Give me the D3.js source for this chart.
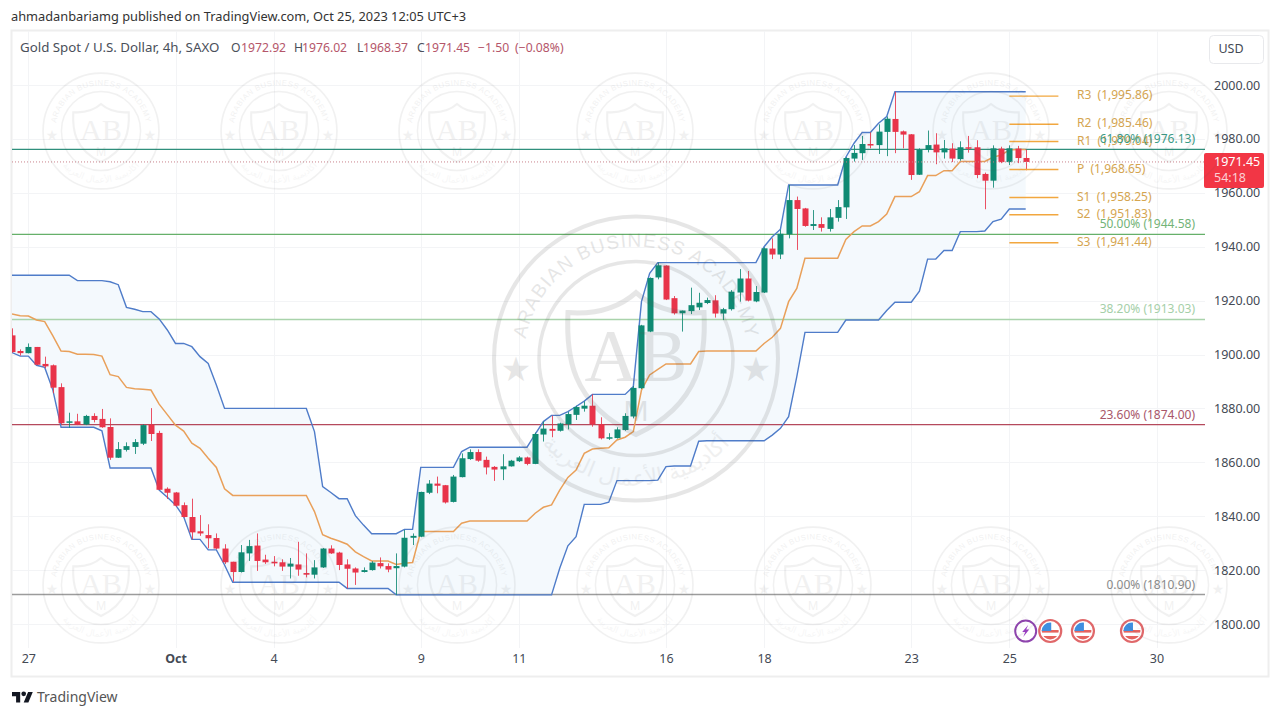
<!DOCTYPE html>
<html><head><meta charset="utf-8">
<script src="https://cdn.jsdelivr.net/npm/d3@7"></script>
<style>
html,body{margin:0;padding:0;background:#fff}
svg{display:block}
text{font-family:"Noto Sans","Open Sans",sans-serif}
</style></head><body>
<svg id="c" width="1280" height="716"></svg>
<script>
const headerText = "ahmadanbariamg published on TradingView.com, Oct 25, 2023 12:05 UTC+3";
const symbolText = "Gold Spot / U.S. Dollar, 4h, SAXO";
const ohlcLabels = ["O","H","L","C"];
const ohlcValues = ["1972.92","1976.02","1968.37","1971.45"];
const changeText = ["−1.50","(−0.08%)"];
const openP = [1907.1,1901.3,1900.5,1902.8,1896.5,1896.0,1887.9,1874.7,1875.2,1874.0,1877.2,1876.1,1873.1,1861.7,1864.6,1865.7,1866.9,1874.0,1870.9,1850.2,1848.8,1844.1,1839.7,1834.4,1833.0,1831.9,1828.0,1823.1,1819.3,1826.2,1829.1,1823.9,1823.1,1822.9,1821.3,1822.1,1818.9,1818.3,1821.0,1828.0,1826.5,1822.1,1820.6,1819.3,1820.0,1822.6,1821.5,1820.7,1821.3,1832.0,1832.4,1848.7,1852.1,1851.5,1845.3,1854.5,1861.2,1863.8,1860.9,1858.3,1857.4,1858.5,1860.4,1861.8,1859.4,1870.3,1872.4,1871.7,1874.1,1877.6,1879.9,1881.0,1874.1,1868.9,1869.0,1872.0,1877.0,1887.5,1908.5,1928.6,1933.0,1920.9,1915.3,1916.1,1917.5,1919.1,1920.1,1915.2,1916.8,1923.0,1928.2,1919.7,1923.0,1939.3,1937.1,1944.6,1957.3,1954.2,1947.7,1948.4,1946.6,1950.7,1954.6,1972.7,1974.7,1978.1,1977.7,1982.6,1987.4,1982.8,1981.7,1966.7,1975.9,1977.9,1975.0,1976.4,1972.5,1976.9,1976.9,1967.0,1964.5,1976.4,1971.4,1976.4,1972.92];
const highP = [1909.7,1901.9,1904.1,1902.8,1899.2,1896.3,1889.3,1878.4,1878.0,1877.6,1878.2,1879.8,1876.3,1867.5,1867.4,1868.6,1874.1,1880.1,1871.7,1850.7,1849.0,1845.1,1846.5,1840.4,1837.0,1833.6,1829.6,1823.1,1829.3,1831.2,1833.6,1825.7,1825.2,1824.0,1824.5,1830.5,1826.2,1823.7,1828.2,1829.2,1826.8,1824.0,1821.0,1821.0,1823.3,1824.7,1822.5,1826.2,1834.9,1833.6,1849.1,1853.4,1854.7,1851.6,1855.3,1863.3,1864.8,1864.8,1862.1,1858.6,1863.0,1860.9,1862.3,1862.1,1871.0,1875.1,1877.3,1874.7,1878.7,1881.0,1882.6,1885.2,1876.7,1870.8,1873.0,1878.2,1888.3,1911.0,1928.6,1934.1,1933.1,1921.7,1916.3,1924.8,1922.9,1921.1,1922.0,1917.3,1923.9,1931.7,1931.0,1925.4,1939.8,1943.1,1946.3,1962.9,1958.6,1954.4,1953.6,1950.9,1954.0,1957.3,1973.2,1977.7,1981.1,1982.4,1985.4,1988.3,1997.5,1983.1,1981.8,1976.5,1983.1,1982.1,1979.6,1978.4,1979.1,1981.1,1979.5,1967.5,1977.6,1977.1,1977.6,1977.4,1976.02];
const lowP = [1900.7,1899.6,1900.4,1896.0,1894.9,1885.6,1874.2,1872.8,1873.8,1873.8,1874.8,1872.8,1860.9,1861.6,1864.0,1863.1,1866.4,1867.9,1849.7,1846.4,1843.5,1839.5,1831.4,1832.7,1828.1,1827.7,1822.3,1815.7,1819.1,1823.4,1819.7,1822.3,1821.4,1819.7,1816.9,1817.9,1817.3,1816.9,1820.8,1826.0,1820.0,1813.2,1814.5,1819.1,1819.8,1820.6,1819.2,1810.8,1821.0,1829.3,1832.2,1848.2,1848.5,1844.7,1845.1,1854.4,1860.9,1860.2,1855.5,1853.1,1853.4,1858.4,1860.1,1858.9,1859.3,1867.7,1869.3,1871.4,1872.2,1875.7,1878.8,1873.2,1868.5,1868.3,1868.8,1871.7,1876.3,1887.2,1908.3,1927.9,1920.2,1914.8,1908.5,1915.0,1916.5,1918.7,1913.7,1912.8,1916.3,1919.6,1919.7,1919.4,1922.8,1935.4,1935.4,1943.1,1938.8,1947.4,1946.2,1945.6,1945.6,1949.3,1950.3,1971.6,1972.2,1976.5,1974.4,1973.6,1974.7,1976.5,1964.8,1966.6,1975.0,1970.6,1972.7,1971.4,1971.9,1974.9,1965.4,1953.9,1961.9,1971.0,1970.3,1971.0,1968.37];
const closeP = [1900.9,1900.5,1902.8,1896.2,1895.6,1887.7,1874.5,1875.2,1874.0,1877.2,1875.7,1873.0,1861.7,1864.9,1866.0,1867.5,1873.8,1870.5,1849.8,1848.7,1843.9,1839.7,1834.0,1833.6,1831.8,1828.0,1822.9,1819.3,1826.6,1828.9,1823.4,1822.9,1822.5,1821.3,1822.4,1820.2,1818.3,1821.0,1828.0,1826.2,1821.9,1820.5,1819.1,1820.0,1822.8,1821.4,1820.2,1821.5,1832.0,1832.7,1849.0,1852.1,1851.3,1845.1,1854.7,1861.5,1863.8,1860.6,1858.1,1857.3,1858.5,1860.6,1861.8,1859.4,1870.5,1872.5,1871.7,1874.4,1877.9,1880.5,1881.0,1874.1,1868.9,1869.3,1872.2,1877.2,1887.6,1910.8,1928.4,1933.1,1920.4,1915.3,1916.3,1918.3,1919.2,1920.2,1915.2,1916.8,1923.3,1928.2,1920.0,1923.2,1939.4,1937.1,1944.8,1957.3,1954.0,1947.7,1948.4,1947.0,1950.9,1954.7,1972.9,1974.8,1978.1,1977.6,1982.7,1987.5,1982.6,1981.6,1966.6,1975.9,1977.7,1975.0,1976.5,1972.7,1976.9,1976.4,1966.6,1964.5,1976.5,1971.4,1976.5,1972.9,1971.45];
const upperBand = [1929.4,1929.4,1929.4,1929.4,1929.4,1929.4,1929.4,1929.4,1927.4,1927.4,1927.4,1927.4,1927.0,1925.9,1917.5,1916.8,1915.9,1915.9,1913.2,1909.1,1904.1,1904.1,1902.9,1899.2,1896.7,1888.7,1880.0,1880.0,1880.0,1880.0,1880.0,1880.0,1880.0,1880.0,1880.0,1880.0,1880.0,1871.4,1851.0,1848.8,1846.5,1846.5,1840.2,1836.7,1833.5,1833.5,1833.5,1833.5,1835.1,1835.1,1858.1,1858.1,1858.1,1858.1,1858.1,1864.0,1865.6,1865.6,1865.6,1865.6,1865.6,1865.6,1865.6,1865.6,1870.5,1875.1,1877.4,1877.4,1878.8,1880.7,1882.7,1885.2,1885.2,1885.2,1885.2,1885.2,1888.1,1919.6,1930.1,1934.1,1934.1,1934.1,1934.1,1934.1,1934.1,1934.1,1934.1,1934.1,1934.1,1934.1,1934.1,1934.1,1940.0,1943.7,1946.5,1962.9,1962.9,1962.9,1962.9,1962.9,1962.9,1962.9,1973.2,1978.4,1982.4,1982.4,1985.8,1988.3,1997.5,1997.5,1997.5,1997.5,1997.5,1997.5,1997.5,1997.5,1997.5,1997.5,1997.5,1997.5,1997.5,1997.5,1997.5,1997.5,1997.5];
const basisBand = [1915.0,1914.4,1914.3,1912.8,1912.2,1906.9,1901.3,1901.1,1900.1,1900.1,1900.0,1899.4,1892.5,1891.8,1887.8,1887.3,1887.1,1886.8,1881.6,1877.7,1873.8,1871.6,1867.1,1865.2,1861.5,1858.1,1850.2,1847.7,1847.7,1847.7,1847.7,1847.7,1847.7,1847.7,1847.7,1847.7,1847.7,1841.7,1833.1,1831.8,1830.8,1829.6,1826.8,1825.0,1823.4,1823.4,1823.4,1822.1,1822.5,1822.8,1834.3,1834.3,1834.3,1834.3,1834.3,1837.4,1838.2,1838.2,1838.2,1838.2,1838.2,1838.2,1838.2,1838.2,1841.1,1843.3,1844.2,1849.7,1854.4,1857.1,1863.3,1864.9,1865.2,1865.4,1868.3,1869.3,1871.4,1886.8,1892.4,1894.5,1896.5,1896.5,1896.5,1896.5,1901.1,1901.3,1901.3,1901.3,1901.3,1901.3,1901.3,1901.3,1904.1,1906.4,1909.7,1919.6,1924.5,1935.7,1935.7,1935.7,1935.7,1935.7,1942.7,1945.6,1947.7,1947.7,1949.3,1952.1,1958.6,1958.6,1958.6,1960.4,1966.4,1966.4,1968.2,1968.2,1971.6,1971.6,1971.6,1971.6,1973.2,1974.0,1975.9,1976.1,1976.1];
const lowerBand = [1900.7,1899.4,1899.4,1896.0,1895.2,1886.8,1873.0,1873.0,1873.0,1873.0,1873.0,1871.7,1857.9,1857.9,1857.9,1857.9,1857.9,1857.9,1849.7,1847.0,1844.2,1839.8,1831.4,1831.4,1827.5,1827.5,1821.9,1815.5,1815.5,1815.5,1815.5,1815.5,1815.5,1815.5,1815.5,1815.5,1815.5,1815.5,1815.5,1815.5,1815.5,1813.2,1813.2,1813.2,1813.2,1813.2,1813.2,1810.8,1810.8,1810.8,1810.8,1810.8,1810.8,1810.8,1810.8,1810.8,1810.8,1810.8,1810.8,1810.8,1810.8,1810.8,1810.8,1810.8,1810.8,1810.8,1810.8,1820.7,1829.0,1832.4,1844.4,1844.4,1844.4,1845.2,1853.2,1853.2,1853.2,1853.2,1853.2,1853.4,1858.4,1858.6,1858.6,1858.6,1867.8,1868.0,1868.0,1868.0,1868.0,1868.0,1868.0,1868.0,1868.0,1870.1,1872.6,1876.9,1891.8,1908.2,1908.2,1908.2,1908.2,1908.2,1912.8,1912.8,1912.8,1912.8,1912.8,1916.3,1919.4,1919.4,1919.4,1923.5,1935.4,1935.4,1938.6,1938.6,1945.6,1945.6,1945.6,1945.8,1949.3,1950.2,1954.0,1954.0,1954.0];
const fibValues = [1976.13,1944.58,1913.03,1874.00,1810.90];
const fibNames = ["61.80%","50.00%","38.20%","23.60%","0.00%"];
const fibColors = ["#2f8f7c","#66b06a","#a9d3ab","#b5495c","#9c9c9c"];
const fibTextColors = ["#3a9a86","#73b377","#a5cfa8","#a8566a","#8a8a8a"];
const pivotNames = ["R3","R2","R1","P","S1","S2","S3"];
const pivotValues = [1995.86,1985.46,1979.04,1968.65,1958.25,1951.83,1941.44];
const priceTicks = [1800,1820,1840,1860,1880,1900,1920,1940,1960,1980,2000];
const timeTickIdx = [2,20,32,50,62,80,92,110,122,140];
const timeTickLabels = ["27","Oct","4","9","11","16","18","23","25","30"];
const lastPrice = 1971.45;
const countdown = "54:18";
const lightningIdx = [124];
const flagIdx = [127,131,137];

const svg = d3.select("#c");
const L=12,R=1205,T=31,B=648;
const x = d3.scaleLinear().domain([0,124]).range([12,12+124*8.175]);
const y = d3.scaleLinear().domain([1800,2000]).range([624,85]);
const defs = svg.append("defs");
defs.append("clipPath").attr("id","plot").append("rect").attr("x",L).attr("y",T).attr("width",R-L).attr("height",B-T);

// frame
svg.append("rect").attr("x",11.5).attr("y",30.5).attr("width",1257).attr("height",646).attr("fill","#fff").attr("stroke","#eeeeee").attr("stroke-width",2);

// grid
const gridG = svg.append("g").attr("stroke","#f3f4f6").attr("stroke-width",1);
gridG.selectAll(".h").data(priceTicks).join("line").attr("x1",L).attr("x2",R).attr("y1",d=>Math.round(y(d))+.5).attr("y2",d=>Math.round(y(d))+.5);
gridG.selectAll(".v").data(timeTickIdx).join("line").attr("y1",T).attr("y2",B).attr("x1",d=>Math.round(x(d))+.5).attr("x2",d=>Math.round(x(d))+.5);

const plot = svg.append("g").attr("clip-path","url(#plot)");
const idx = d3.range(upperBand.length);

// band
plot.append("path").attr("fill","#f4f9fd").attr("d",d3.area().x(i=>x(i)).y0(i=>y(lowerBand[i])).y1(i=>y(upperBand[i]))(idx));

// fib lines
fibValues.forEach((v,i)=>{
  plot.append("line").attr("x1",L).attr("x2",R).attr("y1",y(v)).attr("y2",y(v)).attr("stroke",fibColors[i]).attr("stroke-width",i==2||i==4?1.5:1.2);
});
// band lines
const ln = a=>d3.line().x(i=>x(i)).y(i=>y(a[i]))(idx);
plot.append("path").attr("d",ln(upperBand)).attr("fill","none").attr("stroke","#4f7cc9").attr("stroke-width",1.4);
plot.append("path").attr("d",ln(lowerBand)).attr("fill","none").attr("stroke","#4f7cc9").attr("stroke-width",1.4);
plot.append("path").attr("d",ln(basisBand)).attr("fill","none").attr("stroke","#e9a05a").attr("stroke-width",1.5);

// candles
const up="#0f8a73", dn="#e8344a";
const col=i=>closeP[i]>=openP[i]?up:dn;
plot.selectAll(".w").data(idx).join("line").attr("x1",i=>Math.round(x(i))+.5).attr("x2",i=>Math.round(x(i))+.5)
  .attr("y1",i=>y(highP[i])).attr("y2",i=>y(lowP[i])).attr("stroke",col).attr("stroke-width",1).attr("stroke-opacity",.85);
plot.selectAll(".b").data(idx).join("rect").attr("x",i=>Math.round(x(i))-2.5).attr("width",6)
  .attr("y",i=>y(Math.max(openP[i],closeP[i]))).attr("height",i=>Math.max(1.5,Math.abs(y(openP[i])-y(closeP[i])))).attr("fill",col);

// last price dotted line
plot.append("line").attr("x1",L).attr("x2",R).attr("y1",y(lastPrice)).attr("y2",y(lastPrice)).attr("stroke","#c9828c").attr("stroke-width",1).attr("stroke-dasharray","1 2");

// pivots
const pivG = svg.append("g");
pivotValues.forEach((v,i)=>{
  pivG.append("line").attr("x1",x(122)).attr("x2",x(128)).attr("y1",y(v)).attr("y2",y(v)).attr("stroke","#f2a73f").attr("stroke-width",1.4);
  pivG.append("text").attr("x",1077).attr("y",y(v)-1).attr("dy","0.35em").attr("font-size",12).attr("fill","#d5a550").attr("xml:space","preserve")
    .text(pivotNames[i]+"  ("+d3.format(",.2f")(v)+")");
});
// fib labels
fibValues.forEach((v,i)=>{
  svg.append("text").attr("x",1195).attr("y",y(v)-6).attr("text-anchor","end").attr("font-size",12).attr("fill",fibTextColors[i])
    .text(fibNames[i]+" ("+v.toFixed(2)+")");
});

// axes
const ya = svg.append("g").attr("transform","translate(1214,0)").call(d3.axisRight(y).tickValues(priceTicks).tickSize(0).tickPadding(0).tickFormat(d=>d.toFixed(2)));
ya.select(".domain").remove();
ya.selectAll("text").attr("font-size",12.5).attr("fill","#444a55");
const xa = svg.append("g").attr("transform","translate(0,654)").call(d3.axisBottom(x).tickValues(timeTickIdx).tickSize(0).tickPadding(0).tickFormat((d,i)=>timeTickLabels[i]));
xa.select(".domain").remove();
xa.selectAll("text").attr("font-size",12.5).attr("fill","#444a55").style("font-weight",(d,i)=>timeTickLabels[i]=="Oct"?700:400);

// price tag
svg.append("rect").attr("x",1204).attr("y",153).attr("width",60).attr("height",35).attr("rx",2).attr("fill","#f23645");
svg.append("text").attr("x",1214).attr("y",166).attr("font-size",12.5).attr("fill","#fff").text(lastPrice.toFixed(2));
svg.append("text").attr("x",1214).attr("y",182).attr("font-size",12.5).attr("fill","#fbd0d5").text(countdown);

// USD
svg.append("rect").attr("x",1209.5).attr("y",35.5).attr("width",54).attr("height",28).attr("rx",4).attr("fill","#fff").attr("stroke","#e8e9ec");
svg.append("text").attr("x",1231).attr("y",53).attr("text-anchor","middle").attr("font-size",12.5).attr("fill","#444a55").text("USD");

// header
svg.append("text").attr("x",11).attr("y",21).attr("font-size",12.8).attr("fill","#333").text(headerText);
svg.append("text").attr("x",20).attr("y",52).attr("font-size",13.3).attr("fill","#4a4f5a").text(symbolText);
const lgX=[231,294,357,417], lgV=[241,302,363,425];
ohlcLabels.forEach((l,i)=>{
  svg.append("text").attr("x",lgX[i]).attr("y",52).attr("font-size",12.2).attr("fill","#4a4f5a").text(l);
  svg.append("text").attr("x",lgV[i]).attr("y",52).attr("font-size",12.2).attr("fill","#b5566a").text(ohlcValues[i]);
});
svg.append("text").attr("x",478).attr("y",52).attr("font-size",12.2).attr("fill","#b5566a").text(changeText[0]);
svg.append("text").attr("x",515).attr("y",52).attr("font-size",12.2).attr("fill","#b5566a").text(changeText[1]);

// event icons
const iconY = y(1797.4);
lightningIdx.forEach(i=>{
  const g=svg.append("g").attr("transform",`translate(${x(i)},${iconY})`);
  g.append("circle").attr("r",10.5).attr("fill","#fff").attr("stroke","#8e44ad").attr("stroke-width",2);
  g.append("path").attr("d","M2.5,-6 L-3.5,1 L-0.5,1 L-2.5,6 L3.5,-1.5 L0.5,-1.5 Z").attr("fill","#9b3fc4");
});
flagIdx.forEach((i,k)=>{
  const g=svg.append("g").attr("transform",`translate(${x(i)},${iconY})`);
  const id="fc"+k;
  g.append("circle").attr("r",11).attr("fill","#fff").attr("stroke","#e0686a").attr("stroke-width",2.2);
  g.append("clipPath").attr("id",id).append("circle").attr("r",8.5);
  const f=g.append("g").attr("clip-path",`url(#${id})`);
  f.append("rect").attr("x",-10).attr("y",-1).attr("width",20).attr("height",2.6).attr("fill","#e5645f");
  f.append("rect").attr("x",-10).attr("y",5).attr("width",20).attr("height",5).attr("fill","#e5645f");
  f.append("rect").attr("x",-10).attr("y",-10).attr("width",11).attr("height",10).attr("fill","#3f8fe0");
});

// watermark seals
const sealPositionsX=[101,279,457,635,813,991,1169];
const sealPositionsY=[131,585];
const sealName="ARABIAN BUSINESS ACADEMY";
const sealArabic="أكاديمية الأعمال العربية";
function seal(cx,cy,s,op,id){
  const g=svg.append("g").attr("transform",`translate(${cx},${cy}) scale(${s})`).attr("opacity",op).attr("pointer-events","none");
  g.append("circle").attr("r",142).attr("fill","none").attr("stroke","#555").attr("stroke-width",4);
  g.append("circle").attr("r",97).attr("fill","none").attr("stroke","#555").attr("stroke-width",3.5);
  const pts=(r,a)=>[r*Math.sin(a*Math.PI/180),-r*Math.cos(a*Math.PI/180)];
  const [ax,ay]=pts(112,-84),[bx,by]=pts(112,84);
  g.append("path").attr("id",id+"t").attr("fill","none").attr("d",`M${ax},${ay} A112,112 0 0 1 ${bx},${by}`);
  g.append("text").attr("font-size",19).attr("fill","#555").style("font-family","'Liberation Sans',sans-serif")
    .append("textPath").attr("href","#"+id+"t").attr("startOffset","50%").attr("text-anchor","middle").attr("letter-spacing",1.2).text(sealName);
  const [cx2,cy2]=pts(127,-115),[dx,dy]=pts(127,115);
  g.append("path").attr("id",id+"b").attr("fill","none").attr("d",`M${cx2},${cy2} A127,127 0 0 0 ${dx},${dy}`);
  g.append("text").attr("font-size",22).attr("fill","#555").attr("opacity",.6).style("font-family","'DejaVu Sans',sans-serif")
    .append("textPath").attr("href","#"+id+"b").attr("startOffset","50%").attr("text-anchor","middle").text(sealArabic);
  [-120,120].forEach(xx=>{
    g.append("text").attr("x",xx).attr("y",22).attr("text-anchor","middle").attr("font-size",34).attr("fill","#555").style("font-family","'DejaVu Sans',sans-serif").text("★");
  });
  g.append("path").attr("fill","none").attr("stroke","#555").attr("stroke-width",5)
    .attr("d","M-68,-46 C-40,-44 -18,-50 0,-66 C18,-50 40,-44 68,-46 C70,-5 66,45 0,76 C-66,45 -70,-5 -68,-46 Z");
  g.append("text").attr("y",22).attr("text-anchor","middle").attr("font-size",74).attr("fill","#555").style("font-family","'Liberation Serif',serif").text("AB");
  g.append("text").attr("y",62).attr("text-anchor","middle").attr("font-size",30).attr("fill","#555").style("font-family","'Liberation Sans',sans-serif").text("M");
}
let k=0;
sealPositionsY.forEach(yy=>sealPositionsX.forEach(xx=>seal(xx,yy,0.408,0.08,"s"+(k++))));
seal(636,358.6,1,0.14,"big");

// footer logo
const lg=svg.append("g").attr("transform","translate(12,689.7) scale(0.585)").attr("fill","#131722");
lg.append("path").attr("d","M14 22H7V11H0V4h14v18zM28 22h-8l7.5-18h8L28 22z");
lg.append("circle").attr("cx",20).attr("cy",7).attr("r",4);
svg.append("text").attr("x",37).attr("y",702).attr("font-size",14).attr("fill","#555").text("TradingView");
</script>
</body></html>
